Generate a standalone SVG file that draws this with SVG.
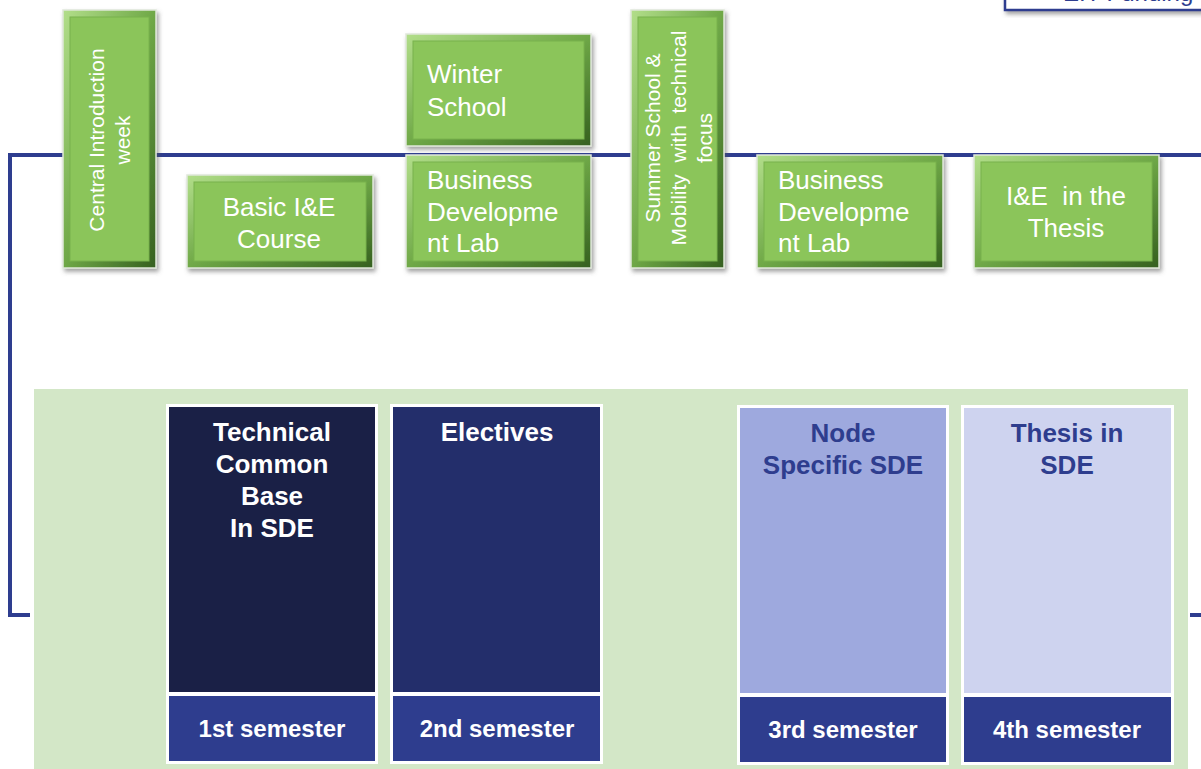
<svg xmlns="http://www.w3.org/2000/svg" width="1201" height="769" viewBox="0 0 1201 769">
<defs>
<linearGradient id="bevel" x1="0" y1="0" x2="1" y2="1">
<stop offset="0" stop-color="#B2DE8A"/>
<stop offset="0.5" stop-color="#6FA847"/>
<stop offset="1" stop-color="#35601F"/>
</linearGradient>
<filter id="shadow" x="-10%" y="-10%" width="125%" height="125%">
<feDropShadow dx="2" dy="3" stdDeviation="2" flood-color="#555" flood-opacity="0.55"/>
</filter>
</defs>
<style>
.g-outer{fill:url(#bevel);stroke:#dfe7da;stroke-width:1.5;filter:url(#shadow)}
.g-inner{fill:#8BC55A;stroke:#79B24D;stroke-width:1}
.gt{font-family:"Liberation Sans",Arial,sans-serif;font-size:26px;fill:#fff}
.vt{font-family:"Liberation Sans",Arial,sans-serif;font-size:21px;fill:#fff;text-anchor:middle}
.line{stroke:#2E3D8F;stroke-width:4;fill:none}
.bt{font-family:"Liberation Sans",Arial,sans-serif;font-size:26px;font-weight:bold;text-anchor:middle}
.st{font-family:"Liberation Sans",Arial,sans-serif;font-size:24px;font-weight:bold;fill:#fff;text-anchor:middle}
.frame{fill:#fff}
.sem{fill:#2E3D8E}
</style>
<rect width="1201" height="769" fill="#fff"/>
<g id="eit-funding">
<rect x="1005" y="-40" width="215" height="50" fill="#fff" stroke="#2E3D8F" stroke-width="2.5" filter="url(#shadow)"/>
<text x="1063" y="1" font-family="Liberation Sans, Arial, sans-serif" font-size="24" fill="#2E3D8F">EIT Funding</text>
</g>
<g id="panel">
<rect x="34" y="389" width="1154" height="380" fill="#D3E7C7"/>
</g>
<g id="connectors">
<polyline class="line" points="1201,155 10,155 10,615 30,615"/>
<line class="line" x1="1190" y1="615" x2="1201" y2="615"/>
</g>
<g id="central-intro">
<rect class="g-outer" x="63" y="10" width="93" height="258"/>
<rect class="g-inner" x="70" y="17" width="79" height="244"/>
<text class="vt" transform="translate(104,140) rotate(-90)">Central Introduction</text>
<text class="vt" transform="translate(130,140) rotate(-90)">week</text>
</g>
<g id="basic-ie">
<rect class="g-outer" x="187" y="175" width="186" height="93"/>
<rect class="g-inner" x="194" y="182" width="172" height="79"/>
<text class="gt" text-anchor="middle" x="279" y="216">Basic I&amp;E</text>
<text class="gt" text-anchor="middle" x="279" y="248">Course</text>
</g>
<g id="winter-school">
<rect class="g-outer" x="406" y="34" width="185" height="112"/>
<rect class="g-inner" x="413" y="41" width="171" height="98"/>
<text class="gt" x="427" y="83">Winter</text>
<text class="gt" x="427" y="116">School</text>
</g>
<g id="bdl-1">
<rect class="g-outer" x="406" y="155" width="185" height="113"/>
<rect class="g-inner" x="413" y="162" width="171" height="99"/>
<text class="gt" x="427" y="189">Business</text>
<text class="gt" x="427" y="221">Developme</text>
<text class="gt" x="427" y="252">nt Lab</text>
</g>
<g id="summer-school">
<rect class="g-outer" x="631" y="10" width="93" height="258"/>
<rect class="g-inner" x="638" y="17" width="79" height="244"/>
<text class="vt" transform="translate(660,138) rotate(-90)">Summer School &amp;</text>
<text class="vt" transform="translate(686,138) rotate(-90)" xml:space="preserve">Mobility  with  technical</text>
<text class="vt" transform="translate(712,138) rotate(-90)">focus</text>
</g>
<g id="bdl-2">
<rect class="g-outer" x="757" y="155" width="186" height="113"/>
<rect class="g-inner" x="764" y="162" width="172" height="99"/>
<text class="gt" x="778" y="189">Business</text>
<text class="gt" x="778" y="221">Developme</text>
<text class="gt" x="778" y="252">nt Lab</text>
</g>
<g id="ie-thesis">
<rect class="g-outer" x="974" y="155" width="185" height="113"/>
<rect class="g-inner" x="981" y="162" width="171" height="99"/>
<text class="gt" text-anchor="middle" x="1066" y="205" xml:space="preserve">I&amp;E  in the</text>
<text class="gt" text-anchor="middle" x="1066" y="237">Thesis</text>
</g>
<g id="sem-1">
<rect class="frame" x="166" y="404" width="212" height="360"/>
<rect x="169" y="407" width="206" height="285" fill="#1A2046"/>
<rect class="sem" x="169" y="696" width="206" height="65"/>
<text class="bt" fill="#fff" x="272" y="441">Technical</text>
<text class="bt" fill="#fff" x="272" y="473">Common</text>
<text class="bt" fill="#fff" x="272" y="505">Base</text>
<text class="bt" fill="#fff" x="272" y="537">In SDE</text>
<text class="st" x="272" y="737">1st semester</text>
</g>
<g id="sem-2">
<rect class="frame" x="390" y="404" width="213" height="360"/>
<rect x="393" y="407" width="207" height="285" fill="#232E6B"/>
<rect class="sem" x="393" y="696" width="207" height="65"/>
<text class="bt" fill="#fff" x="497" y="441">Electives</text>
<text class="st" x="497" y="737">2nd semester</text>
</g>
<g id="sem-3">
<rect class="frame" x="737" y="405" width="212" height="360"/>
<rect x="740" y="408" width="206" height="285" fill="#9EA9DE"/>
<rect class="sem" x="740" y="697" width="206" height="65"/>
<text class="bt" fill="#2E3D8E" x="843" y="442">Node</text>
<text class="bt" fill="#2E3D8E" x="843" y="474">Specific SDE</text>
<text class="st" x="843" y="738">3rd semester</text>
</g>
<g id="sem-4">
<rect class="frame" x="961" y="405" width="213" height="360"/>
<rect x="964" y="408" width="207" height="285" fill="#CED3EF"/>
<rect class="sem" x="964" y="697" width="207" height="65"/>
<text class="bt" fill="#2E3D8E" x="1067" y="442">Thesis in</text>
<text class="bt" fill="#2E3D8E" x="1067" y="474">SDE</text>
<text class="st" x="1067" y="738">4th semester</text>
</g>
</svg>
